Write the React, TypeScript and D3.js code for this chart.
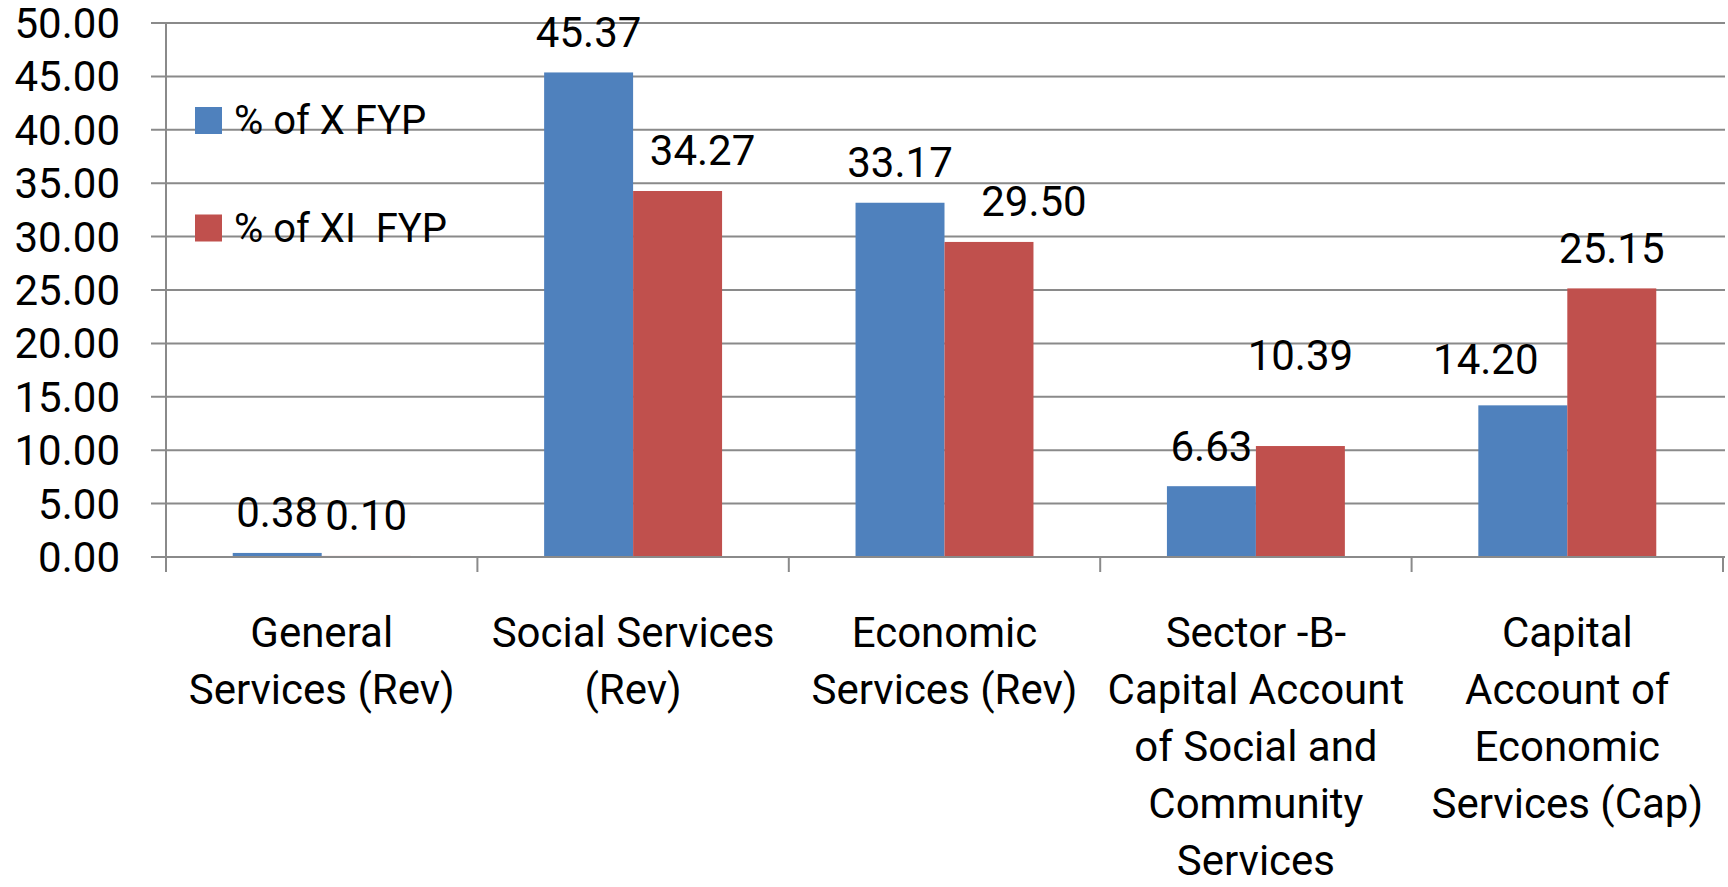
import React from "react";
import * as d3 from "d3";

// ---- data ----
const categories: string[][] = [
  ["General", "Services (Rev)"],
  ["Social Services", "(Rev)"],
  ["Economic", "Services (Rev)"],
  ["Sector -B-", "Capital Account", "of Social and", "Community", "Services"],
  ["Capital", "Account of", "Economic", "Services (Cap)"],
];
const seriesNames = ["% of X FYP", "% of XI  FYP"];
const xFYP = [0.38, 45.37, 33.17, 6.63, 14.2];
const xiFYP = [0.1, 34.27, 29.5, 10.39, 25.15];
const yTicks = [0, 5, 10, 15, 20, 25, 30, 35, 40, 45, 50];

// manual label nudges as placed in the original: [dx right, lift up] in px
const labelNudge: Record<string, [number, number]> = {
  "1-1": [25, 0],
  "1-2": [45, 0],
  "0-4": [-37, 6],
  "1-3": [0, 51],
};

const W = 1728;
const H = 887;
const plot = { left: 166, right: 1723, top: 23, bottom: 557 };
const colors = ["#4F81BD", "#C0504D"];
const gridColor = "#8a8a8a";
const font = "Roboto, 'Liberation Sans', sans-serif";

export default function App() {
  const keys = categories.map((_, i) => String(i));
  const x0 = d3.scaleBand<string>().domain(keys).range([plot.left, plot.right]).padding(0);
  const x1 = d3
    .scaleBand<string>()
    .domain(seriesNames)
    .range([0, x0.bandwidth()])
    .paddingInner(0)
    .paddingOuter(0.75);
  const y = d3.scaleLinear().domain([0, 50]).range([plot.bottom, plot.top]);
  const series = [xFYP, xiFYP];
  const fmt = d3.format(".2f");
  const boundaries = [...keys.map((k) => x0(k)!), plot.right];

  return (
    <svg
      width={W}
      height={H}
      style={{ position: "absolute", left: 0, top: 0, background: "#fff" }}
      fontFamily={font}
    >
      {/* gridlines */}
      {yTicks.map((t) => (
        <line
          key={"g" + t}
          x1={151}
          x2={1725}
          y1={y(t)}
          y2={y(t)}
          stroke={gridColor}
          strokeWidth={2}
        />
      ))}
      {/* y tick labels */}
      {yTicks.map((t) => (
        <text key={"yt" + t} x={120} y={y(t) + 15} textAnchor="end" fontSize={42} fill="#000">
          {fmt(t)}
        </text>
      ))}
      {/* bars */}
      {series.map((vals, s) =>
        vals.map((v, i) => (
          <rect
            key={`b${s}-${i}`}
            x={x0(keys[i])! + x1(seriesNames[s])!}
            y={y(v)}
            width={x1.bandwidth()}
            height={y(0) - y(v)}
            fill={colors[s]}
          />
        ))
      )}
      {/* axes */}
      <line x1={plot.left} x2={plot.left} y1={plot.top} y2={572} stroke={gridColor} strokeWidth={2} />
      <line x1={151} x2={1725} y1={y(0)} y2={y(0)} stroke={gridColor} strokeWidth={2} />
      {boundaries.map((b, i) => (
        <line key={"ct" + i} x1={b} x2={b} y1={y(0)} y2={572} stroke={gridColor} strokeWidth={2} />
      ))}
      {/* data labels */}
      {series.map((vals, s) =>
        vals.map((v, i) => {
          const nudge = labelNudge[`${s}-${i}`] || [0, 0];
          return (
            <text
              key={`l${s}-${i}`}
              x={x0(keys[i])! + x1(seriesNames[s])! + x1.bandwidth() / 2 + nudge[0]}
              y={y(v) - 25.5 - nudge[1]}
              textAnchor="middle"
              fontSize={42}
              fill="#000"
            >
              {fmt(v)}
            </text>
          );
        })
      )}
      {/* category labels */}
      {categories.map((lines, i) => (
        <text
          key={"c" + i}
          x={x0(keys[i])! + x0.bandwidth() / 2}
          y={647}
          textAnchor="middle"
          fontSize={42}
          fill="#000"
        >
          {lines.map((ln, j) => (
            <tspan key={j} x={x0(keys[i])! + x0.bandwidth() / 2} dy={j === 0 ? 0 : 57}>
              {ln}
            </tspan>
          ))}
        </text>
      ))}
      {/* legend */}
      {seriesNames.map((n, s) => (
        <g key={"lg" + s} transform={`translate(195, ${107 + s * 107.5})`}>
          <rect x={0} y={0} width={27} height={27} fill={colors[s]} />
          <text
            x={39}
            y={27}
            fontSize={40}
            fill="#000"
            xmlSpace="preserve"
            style={{ whiteSpace: "pre" }}
          >
            {n}
          </text>
        </g>
      ))}
    </svg>
  );
}
